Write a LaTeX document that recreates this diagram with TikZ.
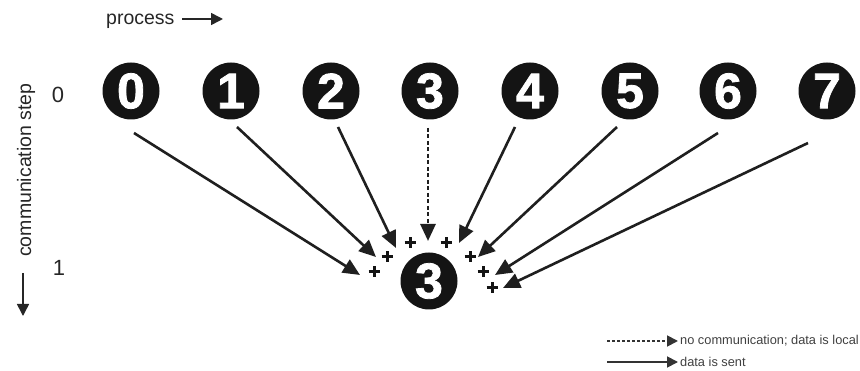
\documentclass[tikz,border=0pt]{standalone}
\usepackage{fontspec}
\setmainfont{Liberation Sans}
\newfontfamily\heavyfont[FakeBold=1.6]{Liberation Sans Bold}
\usetikzlibrary{arrows.meta}
\tikzset{
  proc/.style={circle,fill=black!92,text=white,minimum size=57pt,inner sep=0pt,
    font=\fontsize{50}{50}\heavyfont},
  lbl/.style={font=\fontsize{19.5}{20}\selectfont,inner sep=0pt,text=black!85},
  steplbl/.style={font=\fontsize{22}{22}\selectfont,inner sep=0pt,text=black!85},
  plussign/.pic={\draw[line width=3pt,draw=black!92] (-5.5,0) -- (5.5,0) (0,-5.5) -- (0,5.5);},
  send/.style={line width=2.6pt,draw=black!88,-{Triangle[length=17pt,width=15pt]}},
  localarr/.style={line width=2.8pt,draw=black!88,dash pattern=on 4pt off 2.5pt,-{Triangle[length=17pt,width=15pt]}},
  legsolid/.style={line width=1.8pt,draw=black!80,-{Triangle[length=11pt,width=11pt]}},
  legdash/.style={line width=1.8pt,draw=black!80,dash pattern=on 3pt off 2pt,-{Triangle[length=11pt,width=11pt]}},
  legtxt/.style={font=\fontsize{12.8}{13}\selectfont,inner sep=0pt,text=black!75,anchor=west},
  axarr/.style={line width=1.6pt,draw=black!85,-{Triangle[length=12pt,width=12pt]}}
}
\begin{document}
\begin{tikzpicture}[x=1pt,y=-1pt]
\useasboundingbox (0,0) rectangle (860,371);
% axis labels
\node[lbl,anchor=base west] (proc) at (106,25) {process};
\coordinate (pa) at (182,19);
\coordinate (pb) at (223,19);
\draw[axarr] (pa) -- (pb);
\node[lbl,rotate=90,anchor=base west] (comm) at (31,257) {communication step};
\coordinate (ca) at (23,273);
\coordinate (cb) at (23,316);
\draw[axarr] (ca) -- (cb);
\node[steplbl] (st0) at (58,95) {0};
\node[steplbl] (st1) at (59,268) {1};
% processes
\node[proc] (p0) at (131,91) {0};
\node[proc] (p1) at (231,91) {1};
\node[proc] (p2) at (331,91) {2};
\node[proc] (p3) at (430,91) {3};
\node[proc] (p4) at (530,91) {4};
\node[proc] (p5) at (630,91) {5};
\node[proc] (p6) at (728,91) {6};
\node[proc] (p7) at (827,91) {7};
\node[proc] (r3) at (429,281) {3};
% plus signs
\pic at (374,272) {plussign};
\pic at (387,257) {plussign};
\pic at (410,243) {plussign};
\pic at (446,243) {plussign};
\pic at (470,257) {plussign};
\pic at (483,272) {plussign};
\pic at (492,288) {plussign};
% arrow ends
\coordinate (s0) at (134,133); \coordinate (t0) at (360,275);
\coordinate (s1) at (237,127); \coordinate (t1) at (376,257);
\coordinate (s2) at (338,127); \coordinate (t2) at (396,248);
\coordinate (s3) at (428,128); \coordinate (t3) at (428,241);
\coordinate (s4) at (515,127); \coordinate (t4) at (459,243);
\coordinate (s5) at (617,127); \coordinate (t5) at (478,257);
\coordinate (s6) at (718,133); \coordinate (t6) at (495,275);
\coordinate (s7) at (808,143); \coordinate (t7) at (503,288);
\draw[send] (s0) -- (t0);
\draw[send] (s1) -- (t1);
\draw[send] (s2) -- (t2);
\draw[localarr] (s3) -- (t3);
\draw[send] (s4) -- (t4);
\draw[send] (s5) -- (t5);
\draw[send] (s6) -- (t6);
\draw[send] (s7) -- (t7);
% legend
\coordinate (l1a) at (607,341); \coordinate (l1b) at (678,341);
\coordinate (l2a) at (607,362); \coordinate (l2b) at (678,362);
\draw[legdash] (l1a) -- (l1b);
\draw[legsolid] (l2a) -- (l2b);
\node[legtxt] (lt1) at (680,341) {no communication; data is local};
\node[legtxt] (lt2) at (680,362) {data is sent};
\end{tikzpicture}
\end{document}
